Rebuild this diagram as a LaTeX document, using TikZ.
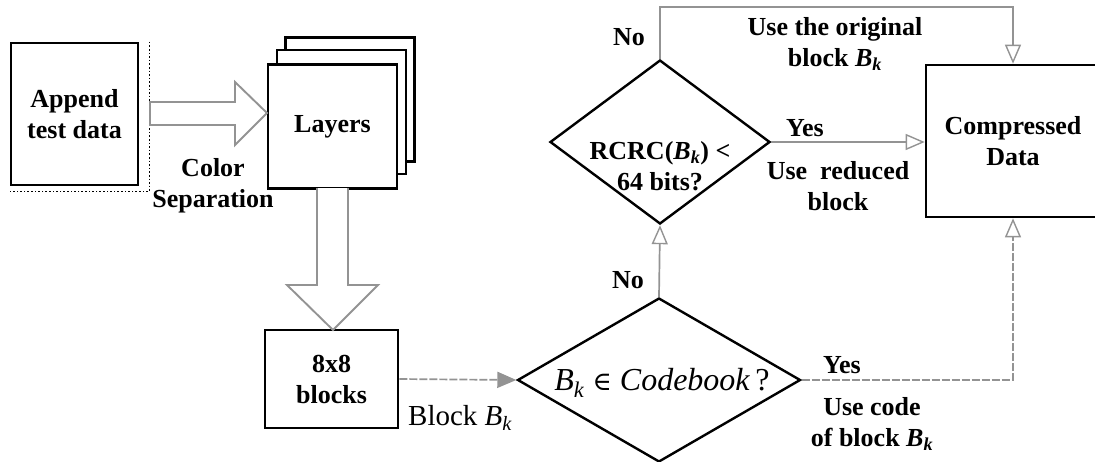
\documentclass[tikz,border=0pt]{standalone}
\usepackage{fontspec}
\setmainfont{Liberation Serif}
\newfontfamily\symfont{DejaVu Serif}
\usetikzlibrary{shapes.geometric,arrows.meta,calc}

% italic B with subscript k, bold and regular
\newcommand{\Bkbold}{\textbf{\textit{B}}\textsubscript{\textbf{\textit{k}}}}
\newcommand{\Bkreg}{\textit{B}\textsubscript{\textit{k}}}
\newcommand{\lblfont}{\fontsize{26}{31}\selectfont\bfseries}

\begin{document}
\begin{tikzpicture}[x=1pt,y=-1pt,
  box/.style={draw=black, line width=2.6pt, fill=white, inner sep=0pt,
              align=center, font=\lblfont},
  decision/.style={diamond, draw=black, line width=2.4pt, inner sep=0pt},
  lbl/.style={align=center, font=\lblfont, inner sep=0pt},
  link/.style={draw=gray!85, line width=1.7pt,
               -{Triangle[open,length=19pt,width=16pt,line width=1.4pt]}},
  dlink/.style={link, dash pattern=on 8pt off 2pt},
  hollow/.style={draw=gray!85, line width=1.9pt, fill=white, line join=miter}
]
\useasboundingbox (0,0) rectangle (1095,461);
\clip (0,0) rectangle (1095,461);

% input box with its dotted outline
\node[box, minimum width=127, minimum height=142] (append) at (74.5,114)
  {Append\\test data};
\draw[black, line width=1.6pt, dotted]
  ($(append.north east)+(10,0)$) -- ($(append.south east)+(10,5)$)
  -- ($(append.south west)+(0,5)$);

% stack of layers
\node[box, minimum width=129, minimum height=124] (layer3) at (350,99.5) {};
\node[box, minimum width=129, minimum height=124] (layer2) at (341.5,112) {};
\node[box, minimum width=129, minimum height=124] (layers) at (332.5,126.5) {Layers};

% hollow arrow: colour separation
\draw[hollow] (150,102) -- (235,102) -- (235,82) -- (267,113)
  -- (235,145) -- (235,125) -- (150,125) -- cycle;
\node[lbl] (colsep) at (213,186) {Color\\Separation};

% 8x8 blocks
\node[box, minimum width=133, minimum height=98] (blocks) at (331.5,379)
  {8x8\\blocks};

% hollow arrow: layers to blocks
\draw[hollow] (317,188) -- (317,285) -- (287,285) -- (333,330)
  -- (378,285) -- (348,285) -- (348,188);

% decisions
\node[decision, minimum width=283, minimum height=164] (cb) at (659,380) {};
\node[inner sep=0pt, font=\fontsize{32}{38}\selectfont] (cbtxt) at (662,383)
  {\Bkreg\ {\symfont\fontsize{26}{30}\selectfont ∈} \textit{Codebook}\,?};
\node[decision, minimum width=220, minimum height=164] (rcrc) at (660,142) {};
\node[lbl] (rcrctxt) at (660,166) {RCRC(\Bkbold) <\\64 bits?};

% output
\node[box, minimum width=174, minimum height=152] (cd) at (1013,141)
  {Compressed\\Data};

% connectors
\draw[dlink, -{Triangle[length=19pt,width=16pt]}] (blocks.east) -- (cb.west);
\node[anchor=west, inner sep=0pt, font=\fontsize{29}{34}\selectfont]
  (blk) at (408,418) {Block \Bkreg};

\draw[link] (cb.north) -- (rcrc.south);
\node[lbl] (no1) at (628,280) {No};

\draw[link] (rcrc.north) -- ++(0,-52) -| (cd.north);
\node[lbl] (no2) at (629,37) {No};
\node[lbl] (orig) at (835,44) {Use the original\\block \Bkbold};

\draw[link] (rcrc.east) -- (rcrc.east -| cd.west);
\node[lbl] (yes1) at (805,128) {Yes};
\node[lbl] (red) at (838,186) {Use\ \ reduced\\block};

\draw[dlink] (cb.east) -| (cd.south);
\node[lbl] (yes2) at (842,365) {Yes};
\node[lbl] (code) at (872,424) {Use code\\of block \Bkbold};
\end{tikzpicture}
\end{document}
